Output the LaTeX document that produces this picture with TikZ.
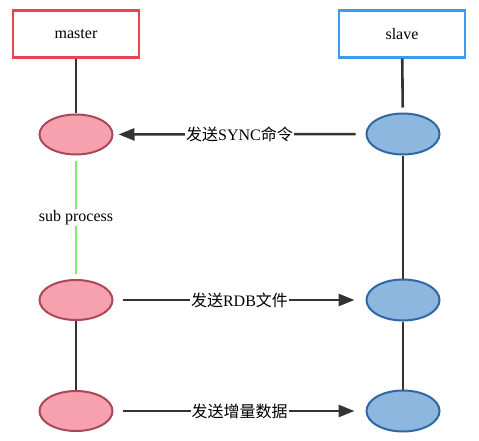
\documentclass[tikz,border=0pt]{standalone}
\usepackage{fontspec}
\setmainfont{Liberation Serif}
\newfontfamily\cjk{Noto Sans CJK SC}
\usetikzlibrary{arrows.meta,shapes.geometric}
\definecolor{boxred}{HTML}{E8434E}
\definecolor{boxblue}{HTML}{3E9AF0}
\definecolor{pinkfill}{HTML}{F7A1AF}
\definecolor{pinkline}{HTML}{A8495A}
\definecolor{bluefill}{HTML}{8DB7DE}
\definecolor{blueline}{HTML}{2E69A6}
\definecolor{subgreen}{HTML}{7EEA6C}
\definecolor{linegray}{HTML}{333333}
\begin{document}
\begin{tikzpicture}[x=1pt,y=-1pt,font=\fontsize{16}{18}\selectfont,
    box/.style={draw,line width=2.2pt,fill=white,minimum width=126pt,minimum height=47pt,inner sep=0pt},
    masterproc/.style={ellipse,draw=pinkline,fill=pinkfill,line width=2pt,minimum width=73pt,minimum height=40pt,inner sep=0pt},
    slaveproc/.style={ellipse,draw=blueline,fill=bluefill,line width=2pt,minimum width=73pt,minimum height=41pt,inner sep=0pt},
    life/.style={draw=linegray,line width=2.6pt},
    msg/.style={draw=linegray,line width=2.6pt,-{Triangle[length=16pt,width=12pt]}},
    msglabel/.style={fill=white,inner sep=1pt}]

            \useasboundingbox (0,0) rectangle (479,441);
            \node[box,draw=boxred] (master) at (76,34) {master};
            \node[box,draw=boxblue] (slave) at (402,34) {slave};

            \node[masterproc] (m1) at (76,134.5) {};
            \node[masterproc] (m2) at (76,300) {};
            \node[masterproc] (m3) at (76,411) {};
            \node[slaveproc] (s1) at (403,134) {};
            \node[slaveproc] (s2) at (403,300) {};
            \node[slaveproc] (s3) at (403,411) {};

            \draw[life] (master) -- (m1);
            \draw[life,shorten >=5pt] (slave) -- (s1);
            \draw[draw=subgreen,line width=2.6pt,shorten <=5pt,shorten >=5pt] (m1) -- node[msglabel] {sub process} (m2);
            \draw[life] (m2) -- (m3);
            \draw[life] (s1) -- (s2);
            \draw[life] (s2) -- (s3);

            \draw[msg,shorten <=10pt,shorten >=5pt] (s1) -- node[msglabel] {{\cjk 发送}SYNC{\cjk 命令}} (m1);
            \draw[msg,shorten <=9pt,shorten >=11pt] (m2) -- node[msglabel] {{\cjk 发送}RDB{\cjk 文件}} (s2);
            \draw[msg,shorten <=9pt,shorten >=11pt] (m3) -- node[msglabel] {{\cjk 发送增量数据}} (s3);
        \end{tikzpicture}
\end{document}
